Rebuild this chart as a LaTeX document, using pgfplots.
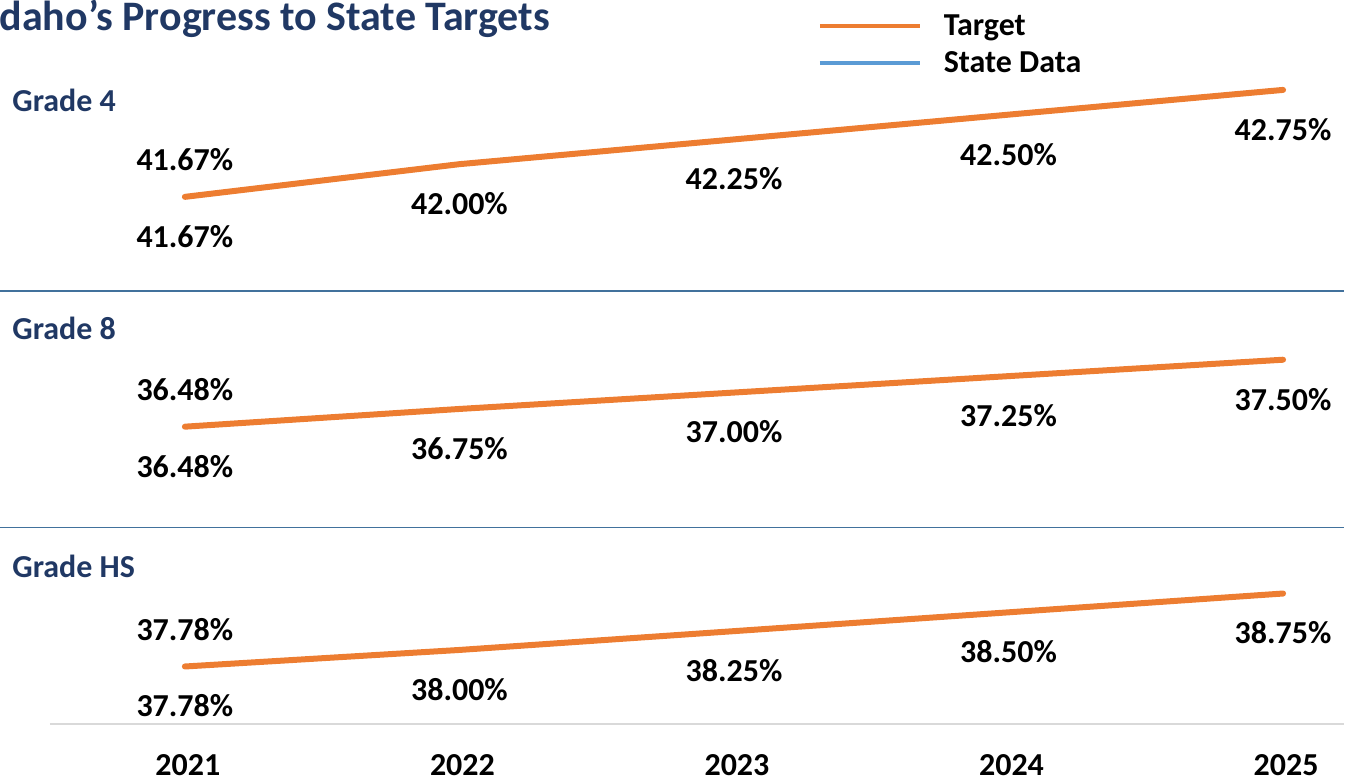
\documentclass[border=0pt]{standalone}
\usepackage{pgfplots}
\pgfplotsset{compat=1.18}
\usepackage{fontspec}
\setmainfont{Carlito}
\definecolor{tgt}{HTML}{ED7D31}
\definecolor{sd}{HTML}{5B9BD5}
\definecolor{navy}{HTML}{203864}
\definecolor{sepc}{HTML}{41719C}
\definecolor{axgray}{HTML}{D9D9D9}
\newcommand{\lbl}{\fontsize{16pt}{19pt}\selectfont\bfseries}

\pgfplotsset{
  panel/.style={
    scale only axis, width=647.5pt,
    xmin=-0.4914, xmax=4.222,
    clip=false,
    /pgf/number format/assume math mode=true,
    nodes near coords={\pgfmathprintnumber[fixed,fixed zerofill,precision=2]{\pgfplotspointmeta}\%},
  },
  tgtplot/.style={color=tgt, line width=3pt, line cap=round, line join=round, no markers,
    nodes near coords style={font=\lbl, text=black, anchor=center, yshift=-19.75pt}},
  sdplot/.style={color=sd, line width=3pt, no markers,
    nodes near coords style={font=\lbl, text=black, anchor=center, yshift=18.5pt}},
}

\begin{document}
\begin{tikzpicture}
\begin{scope}[x=0.5pt,y=-0.5pt]
  \useasboundingbox (0,0) rectangle (1345,781);
  \node[anchor=base west, inner sep=0pt, font=\fontsize{21pt}{25pt}\selectfont\bfseries, text=navy] at (-12,31) {Idaho’s Progress to State Targets};
  \node[anchor=base west, inner sep=0pt, font=\lbl, text=navy] at (12,112) {Grade 4};
  \node[anchor=base west, inner sep=0pt, font=\lbl, text=navy] at (12,340) {Grade 8};
  \node[anchor=base west, inner sep=0pt, font=\lbl, text=navy] at (12,578) {Grade HS};
  \draw[sepc, line width=0.75pt] (0,291) -- (1345,291);
  \draw[sepc, line width=0.75pt] (0,528) -- (1345,528);
\end{scope}

% Grade 4
\begin{axis}[panel, axis lines=none,
  at={(25pt,-140pt)}, anchor=south west, height=100pt,
  ymin=40.8325, ymax=42.8506,
  legend style={at={(rel axis cs:0.5931,1.33)}, anchor=north west, draw=none, fill=none,
    font=\lbl, inner sep=0pt, row sep=6.5pt,
    nodes={inner sep=0pt},
    /tikz/every odd column/.append style={column sep=11pt}},
  legend cell align=left,
  legend image code/.code={\draw[#1, line width=2pt, line cap=butt] (0pt,0pt) -- (50pt,0pt);},
]
\addplot[tgtplot] coordinates {(0,41.67) (1,42.00) (2,42.25) (3,42.50) (4,42.75)};
\addlegendentry{Target}
\addplot[sdplot] coordinates {(0,41.67)};
\addlegendentry{State Data}
\end{axis}

% Grade 8
\begin{axis}[panel, axis lines=none,
  at={(25pt,-260pt)}, anchor=south west, height=110pt,
  ymin=35.0645, ymax=38.413]
\addplot[tgtplot] coordinates {(0,36.48) (1,36.75) (2,37.00) (3,37.25) (4,37.50)};
\addplot[sdplot] coordinates {(0,36.48)};
\end{axis}

% Grade HS
\begin{axis}[panel,
  axis x line=bottom, axis y line=none,
  x axis line style={axgray, line width=1pt, -},
  at={(25pt,-362.5pt)}, anchor=south west, height=92.5pt,
  ymin=37.0097, ymax=39.4666,
  xtick={0,1,2,3,4},
  xticklabels={\textbf{2021},\textbf{2022},\textbf{2023},\textbf{2024},\textbf{2025}},
  major tick length=0pt,
  xticklabel style={font=\lbl, text=black, anchor=center, yshift=-20.5pt, xshift=1.5pt},
]
\addplot[tgtplot] coordinates {(0,37.78) (1,38.00) (2,38.25) (3,38.50) (4,38.75)};
\addplot[sdplot] coordinates {(0,37.78)};
\end{axis}
\end{tikzpicture}
\end{document}
